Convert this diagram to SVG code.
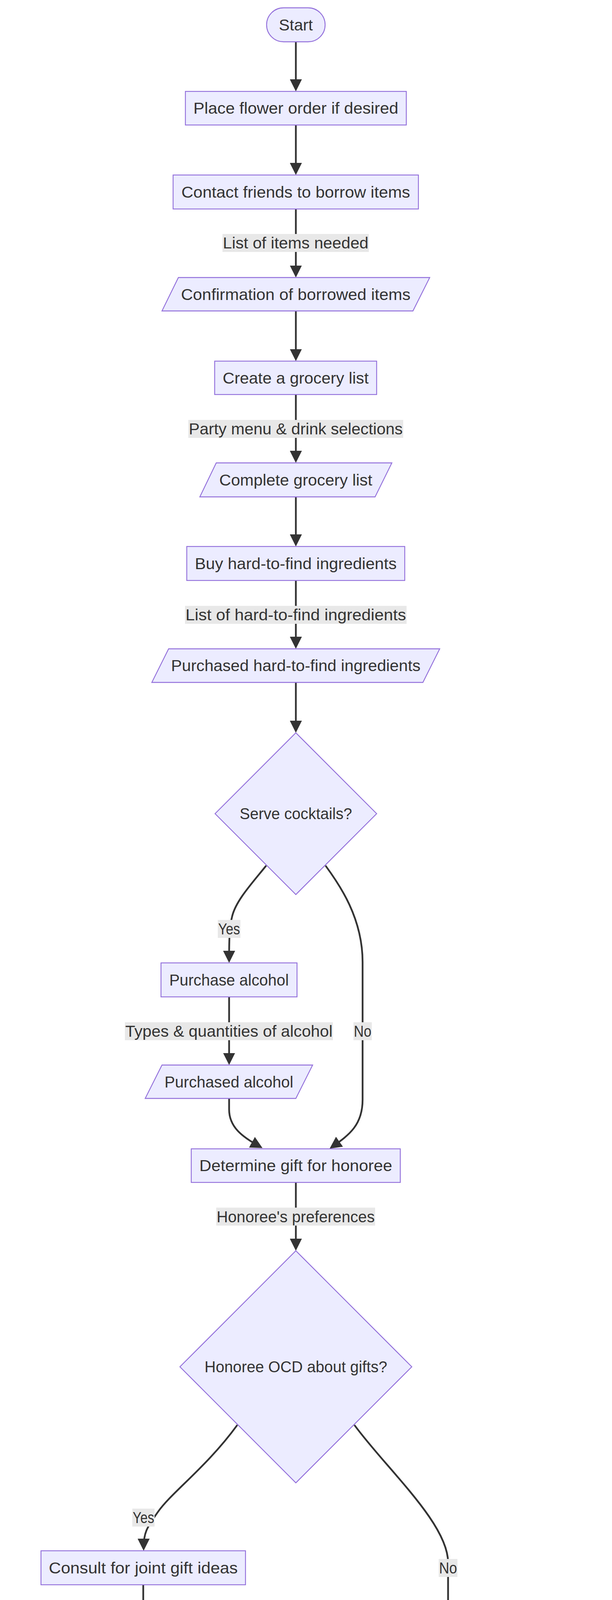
<svg xmlns="http://www.w3.org/2000/svg" width="1568" height="5346" viewBox="0 0 1568 5346">
<style>
.n{fill:#ECECFF;stroke:#9370DB;stroke-width:2.3}
.t{font-family:"Liberation Sans",Arial,sans-serif;font-size:40px;fill:#333333;text-anchor:middle}
.e{fill:none;stroke:#333333;stroke-width:4.5;marker-end:url(#arrow)}
.lb{fill:#e8e8e8}
</style>
<defs>
<marker id="arrow" markerUnits="userSpaceOnUse" markerWidth="31" markerHeight="31" refX="23" refY="15.5" orient="auto" viewBox="0 0 31 31">
<path d="M0,0 L31,15.5 L0,31 z" fill="#333333"/>
</marker>
</defs>
<rect x="0" y="0" width="1568" height="5346" fill="#ffffff"/>
<g id="connectors">
<path class="e" d="M758,107 L758,226"/>
<path class="e" d="M758,320 L758,440"/>
<path class="e" d="M758,535 L758,702.5"/>
<path class="e" d="M758,796 L758,916.5"/>
<path class="e" d="M758,1010 L758,1177"/>
<path class="e" d="M758,1272 L758,1391"/>
<path class="e" d="M758,1486 L758,1653"/>
<path class="e" d="M758,1747 L758,1868"/>
<path class="e" d="M682,2216 C645,2262 605,2305 595,2345 C588,2372 587,2400 587,2457"/>
<path class="e" d="M587,2552 L587,2718.5"/>
<path class="e" d="M834,2216 C870,2265 929,2350 929,2463 L929,2815 C929,2880 895,2905 851,2936"/>
<path class="e" d="M587,2812 L587,2840 C587,2885 620,2910 665.6,2935.2"/>
<path class="e" d="M758,3027 L758,3194"/>
<path class="e" d="M608,3648 C530,3755 440,3820 405,3870 C375,3912 368,3925 368,3962"/>
<path class="e" d="M908,3648 C990,3760 1148,3900 1148,4000 L1148,4225"/>
<path class="e" d="M367,4057 L367,4225"/>
<path class="e" d="M369,4319 L369,4340 C369,4400 420,4430 520,4460 C560,4472 590,4480 620.6,4490.9"/>
<path class="e" d="M1148,4319 L1148,4340 C1148,4375 1130,4405 1060,4435 C1000,4460 950,4473 896.5,4491.3"/>
<path class="e" d="M758,4581 L758,4700"/>
<path class="e" d="M758,4795 L758,4962"/>
<path class="e" d="M758,5056 L758,5176"/>
</g>
<g id="edge-labels">
<g id="lbl-items"><rect class="lb" x="570" y="599" width="375" height="46"/><text class="t" x="757.5" y="636.3" textLength="373" lengthAdjust="spacingAndGlyphs">List of items needed</text></g>
<g id="lbl-menu"><rect class="lb" x="482.5" y="1075" width="550.5" height="46"/><text class="t" x="757.75" y="1112.3" textLength="548" lengthAdjust="spacingAndGlyphs">Party menu &amp; drink selections</text></g>
<g id="lbl-hard"><rect class="lb" x="474" y="1551" width="567.6" height="46"/><text class="t" x="757.8" y="1588.3" textLength="565" lengthAdjust="spacingAndGlyphs">List of hard-to-find ingredients</text></g>
<g id="lbl-yes1"><rect class="lb" x="558" y="2355" width="58" height="46"/><text class="t" x="587" y="2392.3" textLength="56" lengthAdjust="spacingAndGlyphs">Yes</text></g>
<g id="lbl-types"><rect class="lb" x="320" y="2617" width="533" height="46"/><text class="t" x="586.5" y="2654.3" textLength="531" lengthAdjust="spacingAndGlyphs">Types &amp; quantities of alcohol</text></g>
<g id="lbl-no1"><rect class="lb" x="905.6" y="2617" width="47" height="46"/><text class="t" x="929.1" y="2654.3" textLength="45" lengthAdjust="spacingAndGlyphs">No</text></g>
<g id="lbl-pref"><rect class="lb" x="554" y="3091.5" width="407" height="46"/><text class="t" x="757.5" y="3128.8" textLength="405" lengthAdjust="spacingAndGlyphs">Honoree's preferences</text></g>
<g id="lbl-yes2"><rect class="lb" x="339" y="3862" width="57" height="46"/><text class="t" x="367.5" y="3899.3" textLength="55" lengthAdjust="spacingAndGlyphs">Yes</text></g>
<g id="lbl-no2"><rect class="lb" x="1124" y="3991" width="48" height="46"/><text class="t" x="1148" y="4028.3" textLength="46" lengthAdjust="spacingAndGlyphs">No</text></g>
<g id="lbl-sugg"><rect class="lb" x="148" y="4122.5" width="438" height="46"/><text class="t" x="367" y="4159.8" textLength="436" lengthAdjust="spacingAndGlyphs">Suggestions from others</text></g>
<g id="lbl-indiv"><rect class="lb" x="765" y="4384" width="766" height="46"/><text class="t" x="1148" y="4421.3" textLength="764" lengthAdjust="spacingAndGlyphs">Individual gift or honeymoon contribution</text></g>
<g id="lbl-style"><rect class="lb" x="507" y="4859" width="501" height="46"/><text class="t" x="757.5" y="4896.3" textLength="499" lengthAdjust="spacingAndGlyphs">Personal style &amp; dress code</text></g>
</g>
<g id="start"><rect class="n" x="683" y="20" width="150" height="87" rx="43.5" ry="43.5"/><text class="t" x="758" y="77.8" textLength="87" lengthAdjust="spacingAndGlyphs">Start</text></g>
<g id="place-flower"><rect class="n" x="475" y="234" width="566" height="86"/><text class="t" x="758" y="291.3" textLength="525" lengthAdjust="spacingAndGlyphs">Place flower order if desired</text></g>
<g id="contact-friends"><rect class="n" x="443.5" y="448" width="628.5" height="87"/><text class="t" x="757.75" y="505.8" textLength="586" lengthAdjust="spacingAndGlyphs">Contact friends to borrow items</text></g>
<g id="confirmation"><polygon class="n" points="457,710.5 1101,710.5 1058,796 415,796"/><text class="t" x="757.75" y="767.5" textLength="588" lengthAdjust="spacingAndGlyphs">Confirmation of borrowed items</text></g>
<g id="create-list"><rect class="n" x="550" y="924.5" width="415" height="85.5"/><text class="t" x="757.5" y="981.5" textLength="374" lengthAdjust="spacingAndGlyphs">Create a grocery list</text></g>
<g id="complete-list"><polygon class="n" points="554,1185 1004,1185 961,1272 512,1272"/><text class="t" x="757.75" y="1242.8" textLength="392" lengthAdjust="spacingAndGlyphs">Complete grocery list</text></g>
<g id="buy-hard"><rect class="n" x="478.5" y="1399" width="558.5" height="87"/><text class="t" x="757.75" y="1456.8" textLength="517" lengthAdjust="spacingAndGlyphs">Buy hard-to-find ingredients</text></g>
<g id="purchased-hard"><polygon class="n" points="432,1661 1126.6,1661 1083.5,1747 389,1747"/><text class="t" x="757.8" y="1718.3" textLength="639" lengthAdjust="spacingAndGlyphs">Purchased hard-to-find ingredients</text></g>
<g id="serve-cocktails"><polygon class="n" points="758,1876 965,2083 758,2290 551,2083"/><text class="t" x="758" y="2097.3" textLength="288" lengthAdjust="spacingAndGlyphs">Serve cocktails?</text></g>
<g id="purchase-alcohol"><rect class="n" x="412.5" y="2465" width="348.5" height="87"/><text class="t" x="586.75" y="2522.8" textLength="306" lengthAdjust="spacingAndGlyphs">Purchase alcohol</text></g>
<g id="purchased-alcohol"><polygon class="n" points="415,2726.5 801,2726.5 758,2812 372,2812"/><text class="t" x="586.5" y="2783.5" textLength="330" lengthAdjust="spacingAndGlyphs">Purchased alcohol</text></g>
<g id="determine-gift"><rect class="n" x="490" y="2941" width="535.6" height="86"/><text class="t" x="757.8" y="2998.3" textLength="494" lengthAdjust="spacingAndGlyphs">Determine gift for honoree</text></g>
<g id="honoree-ocd"><polygon class="n" points="758,3202 1055,3499 758,3796 461,3499"/><text class="t" x="758" y="3513.3" textLength="468" lengthAdjust="spacingAndGlyphs">Honoree OCD about gifts?</text></g>
<g id="consult"><rect class="n" x="105" y="3970" width="524" height="87"/><text class="t" x="367" y="4027.8" textLength="484" lengthAdjust="spacingAndGlyphs">Consult for joint gift ideas</text></g>
<g id="agreed"><polygon class="n" points="63,4233 714,4233 672,4319 20,4319"/><text class="t" x="367.25" y="4290.3" textLength="598" lengthAdjust="spacingAndGlyphs">Agreed-upon gift or contribution</text></g>
<g id="consider"><rect class="n" x="842" y="4233" width="612" height="86"/><text class="t" x="1148" y="4290.3" textLength="572" lengthAdjust="spacingAndGlyphs">Consider individual gift options</text></g>
<g id="selected-gift"><polygon class="n" points="490,4494 1068,4494 1025,4581 447,4581"/><text class="t" x="757.5" y="4551.8" textLength="522" lengthAdjust="spacingAndGlyphs">Selected gift or contribution</text></g>
<g id="choose-outfit"><rect class="n" x="542" y="4708" width="431" height="87"/><text class="t" x="757.5" y="4765.8" textLength="390" lengthAdjust="spacingAndGlyphs">Choose hostess outfit</text></g>
<g id="selected-dress"><polygon class="n" points="492,4970 1066,4970 1023,5056 450,5056"/><text class="t" x="757.75" y="5027.3" textLength="518" lengthAdjust="spacingAndGlyphs">Selected new dress or outfit</text></g>
<g id="end"><rect class="n" x="694" y="5184" width="128" height="86" rx="43" ry="43"/><text class="t" x="758" y="5241.3" textLength="63" lengthAdjust="spacingAndGlyphs">End</text></g>
</svg>
